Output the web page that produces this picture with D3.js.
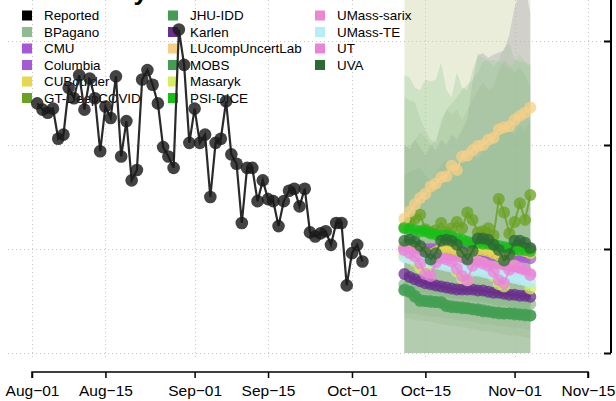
<!DOCTYPE html>
<html><head><meta charset="utf-8">
<script src="https://cdn.jsdelivr.net/npm/d3@7"></script>
<style>body{margin:0;background:#fff}svg{display:block;font-family:"Liberation Sans",Arial,sans-serif}</style>
</head><body><svg id="c" width="616" height="401"></svg>
<script>
// ---------- data ----------
const titleText = "Mortality";
const xTickLabels = ["2020-08-01","2020-08-15","2020-09-01","2020-09-15","2020-10-01","2020-10-15","2020-11-01","2020-11-15"];
const yTickValues = [0, 100, 200, 300];
const xDomain = ["2020-08-01", "2020-11-15"];

const reportedStart = "2020-08-02";
const reported = [240,234,231,235,206,210,255,245,267,234,264,245,194,237,226,266,189,223,166,176,
  263,272,258,240,198,189,178,311,277,202,235,202,210,150,202,206,242,191,182,125,
  178,178,146,166,148,146,122,146,156,158,141,158,116,112,115,117,104,125,125,65,96,104,88];

const forecastStart = "2020-10-11";
const models = ["BPagano","CMU","Columbia","CUBoulder","GT-DeepCOVID","JHU-IDD","Karlen","LUcompUncertLab","MOBS","Masaryk","PSI-DICE","UMass-sarix","UMass-TE","UT","UVA"];
const modelColors = ["#8fbc8f","#a757d6","#a55ad6","#e5d84c","#6aa121","#459c52","#6a2c8e","#f5cf87","#43a053","#d4ef5b","#17bf17","#ec88cf","#b5eef5","#e984d8","#2c6a34"];
const BPagano   = [66,65,64,63,62,61,61,60,59,58,57,57,56,55,54,54,53,52,51,51,50,49,48,48,47];
const CMU       = [102,101,101,101,100,100,100,100,99,99,99,99,99,99,99,98,98,99,99,100,100,100,101,101,100];
const Columbia  = [100,99,99,98,98,97,97,97,96,96,96,95,95,95,94,94,94,94,93,93,93,92,92,92,91];
const CUBoulder = [103,102,101,99,97,95,97,101,101,100,98,95,93,97,100,99,98,96,94,92,95,99,99,98,96];
const GT        = [121,126,129,133,119,116,118,125,116,120,126,120,135,128,116,117,120,113,148,135,115,126,144,128,152];
const JHU       = [60,59,54,50,50,49,49,49,45,44,44,43,43,42,41,40,40,39,38,38,38,38,37,37,36];
const Karlen    = [76,73,71,69,67,66,65,64,63,62,61,61,61,61,60,60,59,58,58,57,56,56,55,55,54];
const LUcomp    = [129,136,143,149,153,160,163,169,170,180,176,189,190,195,199,200,205,207,215,217,218,224,228,231,236];
const MOBS      = [61,59,55,51,50,50,49,48,46,45,44,44,43,42,42,41,40,39,39,38,38,37,37,36,36];
const Masaryk   = [94,91,88,82,80,88,91,91,89,86,78,72,70,82,88,86,82,74,66,64,78,84,80,70,62];
const PSI       = [120,119,118,117,117,115,114,113,113,112,110,109,107,106,106,105,105,104,103,102,101,100,99,99,98];
const sarix     = [98,97,96,95,94,93,92,91,90,89,88,87,86,86,85,84,83,82,81,81,80,79,78,77,76];
const UMassTE   = [92,91,90,89,88,87,86,85,84,83,82,81,80,79,79,78,77,76,75,74,73,72,71,70,68];
const UT        = [99,96,93,86,76,74,87,91,90,88,81,74,70,84,88,86,84,78,70,67,80,84,82,80,75];
const UVA       = [108,109,107,103,97,90,96,108,109,108,104,97,90,98,110,110,109,104,99,89,95,108,108,106,101];
const modelValues = [BPagano,CMU,Columbia,CUBoulder,GT,JHU,Karlen,LUcomp,MOBS,Masaryk,PSI,sarix,UMassTE,UT,UVA];

// prediction intervals (lower / upper), drawn as overlapping translucent bands
const bandWideLo  = [0,0,0,0,0,0,0,0,0,0,0,0,0,0,0,0,0,0,0,0,0,0,0,0,0];
const bandWideHi  = [420,420,420,420,420,420,420,420,420,420,420,420,420,420,420,420,420,420,420,420,420,420,420,420,420];
const bandGrayLo  = [0,0,0,0,0,0,0,0,0,0,0,0,0,0,0,0,0,0,0,0,0,0,0,0,0];
const bandGrayHi  = [200,196,205,198,190,200,195,205,200,210,205,215,225,262,287,288,284,287,289,291,306,332,347,351,327];
const bandLightLo = [0,0,0,0,0,0,0,0,0,0,0,0,0,0,0,0,0,0,0,0,0,0,0,0,0];
const bandLightHi = [267,265,255,253,263,261,263,279,253,246,270,255,253,272,286,284,280,282,280,278,272,280,287,280,278];
const bandMidLo   = [0,0,0,0,0,0,0,0,0,0,0,0,0,0,0,0,0,0,0,0,0,0,0,0,0];
const bandMidHi   = [246,243,241,226,214,205,202,224,234,240,246,253,258,262,270,280,282,275,282,293,298,282,280,279,275];
const bandDarkLo  = [34,33,32,31,31,30,29,28,27,26,26,25,24,23,22,21,21,20,19,18,17,17,16,15,14];
const bandDarkHi  = [198,200,205,212,207,200,205,219,234,229,234,224,234,243,253,260,253,256,272,282,277,269,275,267,256];
const bandInnerLo = [39,38,38,37,36,35,35,34,33,33,32,31,31,30,29,28,28,27,26,26,25,24,24,23,22];
const bandInnerHi = [171,174,176,178,171,166,174,181,186,181,178,186,195,190,186,195,205,200,214,224,214,210,219,214,224];

// ---------- drawing ----------
const svg = d3.select("#c");
const parse = d3.utcParse("%Y-%m-%d");
const x = d3.scaleUtc().domain(xDomain.map(parse)).range([32, 588]);
const y = d3.scaleLinear().domain([0, 300]).range([353, 41]);

const repDates = reported.map((v, i) => d3.utcDay.offset(parse(reportedStart), i));
const fcDates = LUcomp.map((v, i) => d3.utcDay.offset(parse(forecastStart), i));
const xTicks = xTickLabels.map(parse);

// title (cut off at the top, as in the reference crop)
svg.append("text").attr("x", 148).attr("y", 0).attr("text-anchor", "end")
  .attr("font-size", 26).attr("font-weight", "bold").attr("fill", "#000").text(titleText);

// grid
const grid = svg.append("g").attr("stroke", "#c8c8c8").attr("stroke-width", 1).attr("stroke-dasharray", "1,3");
grid.selectAll("line.v").data(xTicks).join("line").attr("class", "v")
  .attr("x1", d => Math.round(x(d)) + 0.5).attr("x2", d => Math.round(x(d)) + 0.5)
  .attr("y1", 0).attr("y2", 358);
grid.selectAll("line.h").data(yTickValues).join("line").attr("class", "h")
  .attr("x1", 8).attr("x2", 604)
  .attr("y1", d => Math.round(y(d)) + 0.5).attr("y2", d => Math.round(y(d)) + 0.5);

// bands
svg.append("clipPath").attr("id", "clip").append("rect").attr("x", 0).attr("y", -10).attr("width", 604).attr("height", 363);
const bandG = svg.append("g").attr("clip-path", "url(#clip)");
const bands = [
  {lo: bandWideLo, hi: bandWideHi, fill: "#c9d3a0", op: 0.4},
  {lo: bandGrayLo, hi: bandGrayHi, fill: "#b0a9b4", op: 0.42},
  {lo: bandLightLo, hi: bandLightHi, fill: "#9fd49a", op: 0.36},
  {lo: bandMidLo, hi: bandMidHi, fill: "#86b281", op: 0.2},
  {lo: bandDarkLo, hi: bandDarkHi, fill: "#77aa72", op: 0.14},
  {lo: bandInnerLo, hi: bandInnerHi, fill: "#6aa466", op: 0.12}
];
const area = d3.area().x(d => x(d.date)).y0(d => y(d.lo)).y1(d => y(d.hi));
bands.forEach(b => {
  const pts = fcDates.map((d, i) => ({date: d, lo: b.lo[i], hi: b.hi[i]}));
  bandG.append("path").attr("d", area(pts)).attr("fill", b.fill).attr("fill-opacity", b.op);
});

// legend
const legendNames = ["Reported"].concat(models);
const legendColors = ["#000000"].concat(modelColors);
const colX = [22, 168, 315];
const leg = svg.append("g");
legendNames.forEach((name, i) => {
  const col = Math.floor(i / 6), row = i % 6;
  const cy = 15.5 + row * 16.5;
  leg.append("rect").attr("x", colX[col]).attr("y", cy - 5).attr("width", 10).attr("height", 10).attr("fill", legendColors[i]);
  leg.append("text").attr("x", colX[col] + 22).attr("y", cy + 4.8).attr("font-size", 13.4).attr("fill", "#000").text(name);
});

// axes
const xAxis = svg.append("g").attr("transform", "translate(0,372)")
  .call(d3.axisBottom(x).tickValues(xTicks).tickSize(6).tickPadding(7)
    .tickFormat(d => d3.utcFormat("%b-%d")(d).replace("-", "\u2212")));
xAxis.select(".domain").attr("stroke", "#000").attr("stroke-width", 1.5).attr("d", `M${x(xTicks[0])},6V0H${x(xTicks[xTicks.length-1])}V6`);
xAxis.selectAll(".tick line").attr("stroke", "#000").attr("stroke-width", 1.5);
xAxis.selectAll(".tick text").attr("font-size", 15.5).attr("fill", "#000").attr("font-family", "Liberation Sans, Arial, sans-serif");

const yAxis = svg.append("g").attr("transform", "translate(611,0)")
  .call(d3.axisLeft(y).tickValues(yTickValues).tickSize(7).tickFormat(""));
yAxis.select(".domain").attr("stroke", "#000").attr("stroke-width", 2).attr("d", `M0,0V${y(0)}`);
yAxis.selectAll(".tick line").attr("stroke", "#000").attr("stroke-width", 2);

// reported series
const line = d3.line().x(d => x(d.date)).y(d => y(d.v));
const repPts = reported.map((v, i) => ({date: repDates[i], v}));
svg.append("path").attr("d", line(repPts)).attr("fill", "none").attr("stroke", "#2a2a2a").attr("stroke-width", 2.2);
svg.append("g").selectAll("circle").data(repPts).join("circle")
  .attr("cx", d => x(d.date)).attr("cy", d => y(d.v)).attr("r", 6.3)
  .attr("fill", "#1a1a1a").attr("fill-opacity", 0.82);

// forecast series
modelValues.forEach((vals, m) => {
  const pts = vals.map((v, i) => ({date: fcDates[i], v}));
  const g = svg.append("g");
  g.append("path").attr("d", line(pts)).attr("fill", "none").attr("stroke", modelColors[m]).attr("stroke-width", 2).attr("stroke-opacity", 0.8);
  g.selectAll("circle").data(pts).join("circle")
    .attr("cx", d => x(d.date)).attr("cy", d => y(d.v)).attr("r", 6)
    .attr("fill", modelColors[m]).attr("fill-opacity", 0.75);
});
</script></body></html>
